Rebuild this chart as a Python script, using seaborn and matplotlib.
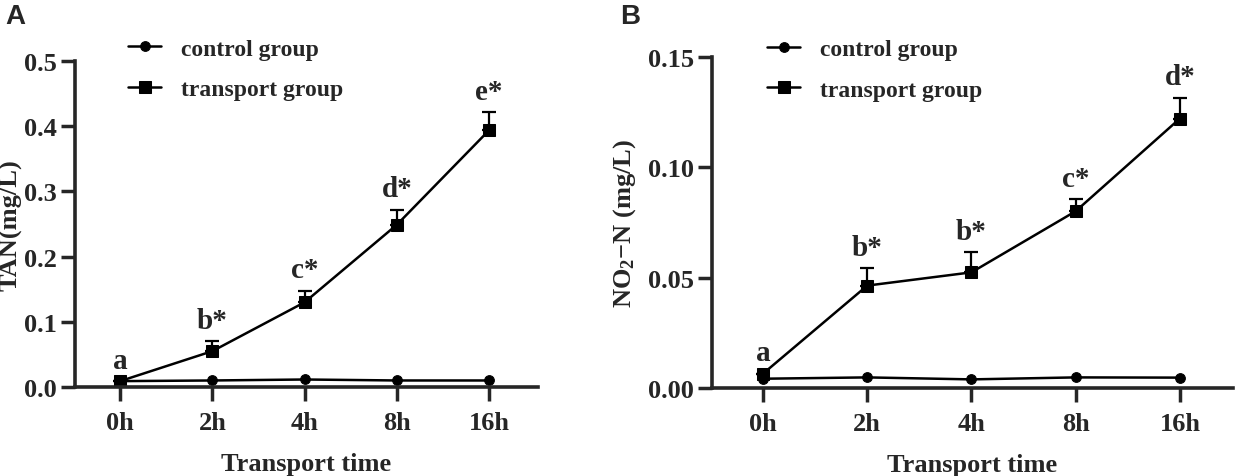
import numpy as np
import pandas as pd
import matplotlib
matplotlib.use("Agg")
import matplotlib.pyplot as plt
import seaborn as sns

# Datos
times = ["0h", "2h", "4h", "8h", "16h"]

tan_control = [0.009, 0.010, 0.0115, 0.010, 0.010]
tan_transport = [0.009, 0.055, 0.130, 0.249, 0.394]
tan_transport_sd = [0.0, 0.015, 0.018, 0.023, 0.028]
tan_letters = ["a", "b*", "c*", "d*", "e*"]

no2_control = [0.0042, 0.0048, 0.0039, 0.0048, 0.0047]
no2_transport = [0.0065, 0.0464, 0.0524, 0.0801, 0.1221]
no2_transport_sd = [0.0, 0.0078, 0.0090, 0.0054, 0.0094]
no2_letters = ["a", "b*", "b*", "c*", "d*"]

sns.set_style("ticks")
plt.rcParams["font.family"] = ["Liberation Serif", "DejaVu Serif"]
plt.rcParams["font.weight"] = "bold"
plt.rcParams["mathtext.fontset"] = "custom"
plt.rcParams["mathtext.rm"] = "Liberation Serif:bold"
plt.rcParams["mathtext.it"] = "Liberation Serif:bold"
plt.rcParams["mathtext.bf"] = "Liberation Serif:bold"

fig = plt.figure(figsize=(12.35, 4.77), dpi=100)
axA = fig.add_axes([0.0607, 0.1866, 0.375, 0.6834])
axB = fig.add_axes([0.5765, 0.1845, 0.4219, 0.694])


def panel(ax, control, transport, sd, letters, ymax, yticks, ylabel, xlim, leg_xy, ylab_x):
    pos = np.arange(len(times))
    df = pd.DataFrame({
        "pos": np.concatenate([pos, pos]),
        "value": control + transport,
        "group": ["control group"] * len(times) + ["transport group"] * len(times),
    })
    sns.lineplot(data=df[df.group == "control group"], x="pos", y="value",
                 color="black", marker="o", markersize=7, lw=1.8,
                 markeredgecolor="black", label="control group", ax=ax)
    ax.errorbar(pos, transport, yerr=[np.zeros(len(sd)), sd], fmt="none",
                ecolor="black", elinewidth=1.6, capsize=5, capthick=1.6)
    sns.lineplot(data=df[df.group == "transport group"], x="pos", y="value",
                 color="black", marker="s", markersize=8, lw=1.8,
                 markeredgecolor="black", label="transport group", ax=ax)

    for x, m, s, t in zip(pos, transport, sd, letters):
        ax.annotate(t, (x, m + s), xytext=(0, 15), textcoords="offset points",
                    ha="center", va="center", fontsize=21, fontweight="bold")

    ax.set_xlim(*xlim)
    ax.set_ylim(0, ymax)
    ax.set_xticks(pos)
    ax.set_xticklabels(times)
    ax.set_yticks(yticks)
    ax.set_yticklabels([("%.2f" if ymax < 0.2 else "%.1f") % v for v in yticks])
    ax.set_xlabel("Transport time", fontsize=19, fontweight="bold", labelpad=13)
    ax.set_ylabel(ylabel, fontsize=19, fontweight="bold", va="center")
    ax.yaxis.set_label_coords(ylab_x, 0.5)
    ax.tick_params(axis="both", length=10, width=2.5, labelsize=19, direction="out")
    ax.tick_params(axis="x", pad=7)
    ax.tick_params(axis="y", pad=3)
    for side in ["left", "bottom"]:
        ax.spines[side].set_linewidth(2.6)
    sns.despine(ax=ax)

    ax.legend(loc="center left", bbox_to_anchor=leg_xy, frameon=False,
              fontsize=17, handlelength=1.4, handletextpad=0.85,
              labelspacing=0.8, borderpad=0, borderaxespad=0)


panel(axA, tan_control, tan_transport, tan_transport_sd, tan_letters,
      0.5, [0.0, 0.1, 0.2, 0.3, 0.4, 0.5], "TAN(mg/L)", (-0.49, 4.53), (0.1145, 0.975), -0.138)
panel(axB, no2_control, no2_transport, no2_transport_sd, no2_letters,
      0.15, [0.0, 0.05, 0.10, 0.15], r"NO$_{2}$$-$N (mg/L)", (-0.49, 4.51), (0.1056, 0.962), -0.168)

fig.text(0.004, 0.965, "A", fontsize=20, fontweight="bold", family="Liberation Sans", va="center")
fig.text(0.502, 0.965, "B", fontsize=20, fontweight="bold", family="Liberation Sans", va="center")

fig.savefig("out.png", dpi=100)
